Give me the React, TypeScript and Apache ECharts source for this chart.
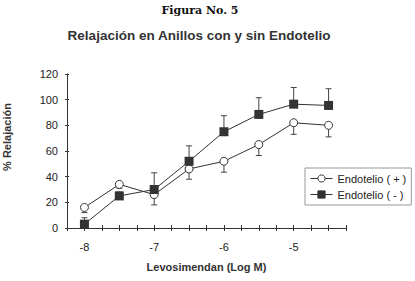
import React, { useEffect, useRef } from "react";
import * as echarts from "echarts";

const logDose = [-8, -7.5, -7, -6.5, -6, -5.5, -5, -4.5];
const conEndotelio = [16, 34, 26, 46, 52, 65, 82, 80];
const errCon = [4, 3, 8, 8, 8.5, 8.5, 9, 9];
const sinEndotelio = [3, 25, 30, 52, 75, 88.5, 96.5, 95.5];
const errSin = [5, 3, 13, 12, 12.5, 13, 13, 13];
const yTicks = [0, 20, 40, 60, 80, 100, 120];
const xLabels = [-8, -7, -6, -5];

const seriesNames = ["Endotelio ( + )", "Endotelio ( - )"];

export default function App() {
  const ref = useRef<HTMLDivElement>(null);
  useEffect(() => {
    if (!ref.current) return;
    const chart = echarts.init(ref.current, undefined, { renderer: "svg" });
    const axisColor = "#333";
    const textColor = "#222";
    const font = "Liberation Sans, Arial, sans-serif";

    const errRender = (params: any, api: any) => {
      const x = api.value(0);
      const y1 = api.value(1);
      const y2 = api.value(2);
      const p1 = api.coord([x, y1]);
      const p2 = api.coord([x, y2]);
      const style = { stroke: "#444", lineWidth: 1 };
      return {
        type: "group",
        children: [
          { type: "line", shape: { x1: p1[0], y1: p1[1], x2: p2[0], y2: p2[1] }, style },
          { type: "line", shape: { x1: p2[0] - 3, y1: p2[1], x2: p2[0] + 3, y2: p2[1] }, style },
        ],
      };
    };

    const xMin = -8.25;
    const xMax = -4.25;
    const yMin = yTicks[0];
    const yMax = yTicks[yTicks.length - 1];

    chart.setOption({
      animation: false,
      backgroundColor: "#fff",
      textStyle: { fontFamily: font },
      grid: { left: 67, right: 69, top: 74, bottom: 53 },
      graphic: [
        {
          type: "text",
          x: 200,
          y: 10,
          style: {
            text: "Figura No. 5",
            font: "bold 11px 'DejaVu Serif', serif",
            fill: "#111",
            textAlign: "center",
            textVerticalAlign: "middle",
          },
        },
        {
          type: "text",
          x: 199,
          y: 35,
          style: {
            text: "Relajación en Anillos con y sin Endotelio",
            font: "bold 13.5px 'Liberation Sans', Arial, sans-serif",
            fill: "#333",
            textAlign: "center",
            textVerticalAlign: "middle",
          },
        },
        {
          type: "text",
          x: 7,
          y: 137,
          rotation: Math.PI / 2,
          style: {
            text: "% Relajación",
            font: "bold 11px 'Liberation Sans', Arial, sans-serif",
            fill: "#333",
            textAlign: "center",
            textVerticalAlign: "middle",
          },
        },
      ],
      legend: {
        orient: "vertical",
        left: 305,
        top: 168,
        width: 106,
        data: seriesNames,
        borderColor: "#999",
        borderWidth: 1,
        padding: [5, 5, 5, 5],
        itemGap: 5,
        itemWidth: 22,
        itemHeight: 9,
        lineStyle: { width: 1 },
        itemStyle: { borderWidth: 1 },
        textStyle: { fontSize: 11, color: textColor, fontFamily: font },
      },
      xAxis: [
        {
          type: "value",
          min: xMin,
          max: xMax,
          interval: 0.25,
          name: "Levosimendan (Log M)",
          nameLocation: "middle",
          nameGap: 33,
          nameTextStyle: { fontWeight: "bold", fontSize: 11, color: "#333" },
          splitLine: { show: false },
          axisLine: { lineStyle: { color: axisColor } },
          axisTick: { length: 3, lineStyle: { color: axisColor } },
          axisLabel: {
            fontSize: 11,
            color: textColor,
            margin: 13,
            showMinLabel: true,
            showMaxLabel: true,
            formatter: (v: number) => (xLabels.indexOf(v) >= 0 ? String(v) : ""),
          },
        },
        {
          type: "value",
          min: xMin,
          max: xMax,
          interval: 0.25,
          position: "bottom",
          splitLine: { show: false },
          axisLine: { show: false },
          axisTick: { inside: true, length: 3, lineStyle: { color: axisColor } },
          axisLabel: { show: false },
        },
      ],
      yAxis: [
        {
          type: "value",
          min: yMin,
          max: yMax,
          interval: 20,
          splitLine: { show: false },
          axisLine: { show: true, lineStyle: { color: axisColor } },
          axisTick: { show: true, length: 2, lineStyle: { color: axisColor } },
          axisLabel: { fontSize: 11, color: textColor, margin: 9 },
        },
        {
          type: "value",
          min: yMin,
          max: yMax,
          interval: 20,
          position: "left",
          splitLine: { show: false },
          axisLine: { show: false },
          axisTick: { show: true, inside: true, length: 2, lineStyle: { color: axisColor } },
          axisLabel: { show: false },
        },
      ],
      series: [
        {
          type: "custom",
          name: "errCon",
          renderItem: errRender,
          encode: { x: 0, y: [1, 2] },
          data: logDose.map((x, i) => [x, conEndotelio[i], conEndotelio[i] - errCon[i]]),
          z: 1,
        },
        {
          type: "custom",
          name: "errSin",
          renderItem: errRender,
          encode: { x: 0, y: [1, 2] },
          data: logDose.map((x, i) => [x, sinEndotelio[i], sinEndotelio[i] + errSin[i]]),
          z: 1,
        },
        {
          type: "line",
          name: seriesNames[0],
          data: logDose.map((x, i) => [x, conEndotelio[i]]),
          symbol: "circle",
          symbolSize: 8,
          lineStyle: { color: "#333", width: 1 },
          itemStyle: { color: "#fff", borderColor: "#333", borderWidth: 1 },
          z: 3,
        },
        {
          type: "line",
          name: seriesNames[1],
          data: logDose.map((x, i) => [x, sinEndotelio[i]]),
          symbol: "rect",
          symbolSize: 9,
          lineStyle: { color: "#333", width: 1 },
          itemStyle: { color: "#333", borderColor: "#333", borderWidth: 0 },
          z: 4,
        },
      ],
    });
    return () => chart.dispose();
  }, []);
  return (
    <div
      ref={ref}
      style={{ position: "fixed", left: 0, top: 0, width: 415, height: 281, background: "#fff" }}
    />
  );
}
